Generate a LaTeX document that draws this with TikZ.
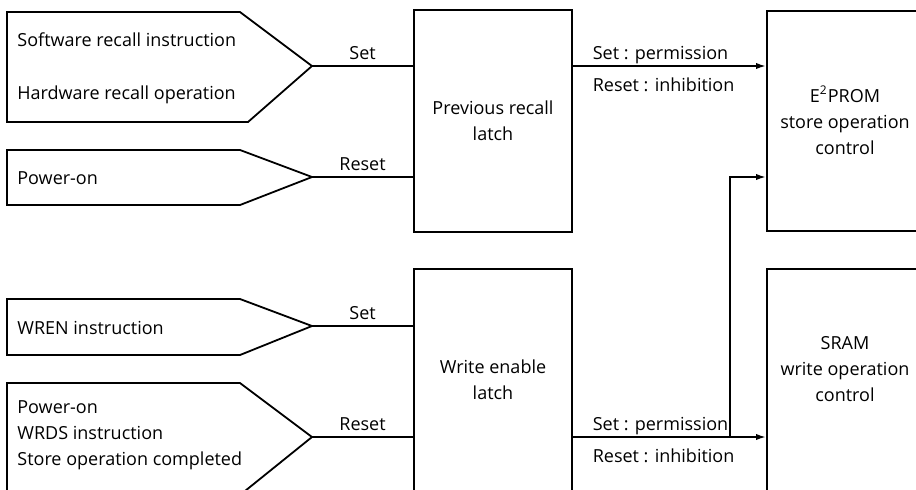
\documentclass[tikz,border=0pt]{standalone}
\usepackage{fontspec}
\setmainfont{Open Sans}
\usetikzlibrary{arrows.meta,positioning,calc}

\tikzset{
  sig/.style={line width=0.9pt},
  sigarrow/.style={sig, -{Latex[length=5pt,width=3.2pt]}},
  latch/.style={draw, line width=0.9pt, minimum width=79pt, minimum height=111pt, align=center, inner sep=0pt},
  ctrlbox/.style={draw, line width=0.9pt, minimum width=90pt, anchor=north west},
  cause/.style={anchor=west, inner sep=0pt, align=left},
  tag/.style={inner sep=1.5pt}
}

\begin{document}
\begin{tikzpicture}[x=0.5pt,y=-0.5pt,font=\fontsize{9}{13}\selectfont]
  \useasboundingbox (0,0) rectangle (916,489);
  \clip (0,0) rectangle (916,489);

  % input condition shapes, each ending in a point
  \foreach \top/\bot/\tip/\br/\nm in {12/122/66/248/recin,150/205/177/240/ponin,299/355/326/240/wrenin,383/491/437/245/wrdsin}{
    \draw[sig] (7,\top) -- (240,\top) -- (312,\tip) coordinate (\nm) -- (\br,\bot) -- (7,\bot) -- cycle;
  }
  \node[cause] (swrec) at (17,40) {Software recall instruction};
  \node[cause] (hwrec) at (17,95) {Hardware recall operation};
  \node[cause] (pon) at (17,178) {Power-on};
  \node[cause] (wren) at (17,328) {WREN instruction};
  \node[cause] (wrds) at (17,435) {Power-on\\WRDS instruction\\Store operation completed};

  % latches
  \node[latch] (prl) at (493,121) {Previous recall\\latch};
  \node[latch] (wel) at (493,380) {Write enable\\latch};

  % control blocks (run off the right edge)
  \node[ctrlbox, minimum height=110pt] (eprom) at (766,10) {};
  \node[ctrlbox, minimum height=116pt] (sram) at (766,268) {};
  \node[align=center] (epromtxt) at (845,120) {E\textsuperscript{2}PROM\\store operation\\control};
  \node[align=center] (sramtxt) at (845,369) {SRAM\\write operation\\control};

  % set / reset inputs
  \draw[sig] (recin) -- node[tag, above=1pt] {Set} (recin -| prl.west);
  \draw[sig] (ponin) -- node[tag, above=1pt] {Reset} (ponin -| prl.west);
  \draw[sig] (wrenin) -- node[tag, above=1pt] {Set} (wrenin -| wel.west);
  \draw[sig] (wrdsin) -- node[tag, above=1pt] {Reset} (wrdsin -| wel.west);

  % latch outputs
  \draw[sigarrow] (recin -| prl.east) -- (recin -| eprom.west)
    node[tag, pos=0, above right, xshift=8pt, yshift=-1pt] {Set : permission}
    node[tag, pos=0, below right, xshift=8pt, yshift=-4pt] {Reset : inhibition};
  \draw[sigarrow] (wrdsin -| wel.east) -- (wrdsin -| sram.west)
    node[tag, pos=0, above right, xshift=8pt, yshift=-1pt] {Set : permission}
    node[tag, pos=0, below right, xshift=8pt, yshift=-4pt] {Reset : inhibition};
  \coordinate (tap) at (730,437);
  \draw[sigarrow] (tap) |- (ponin -| eprom.west);
\end{tikzpicture}
\end{document}
